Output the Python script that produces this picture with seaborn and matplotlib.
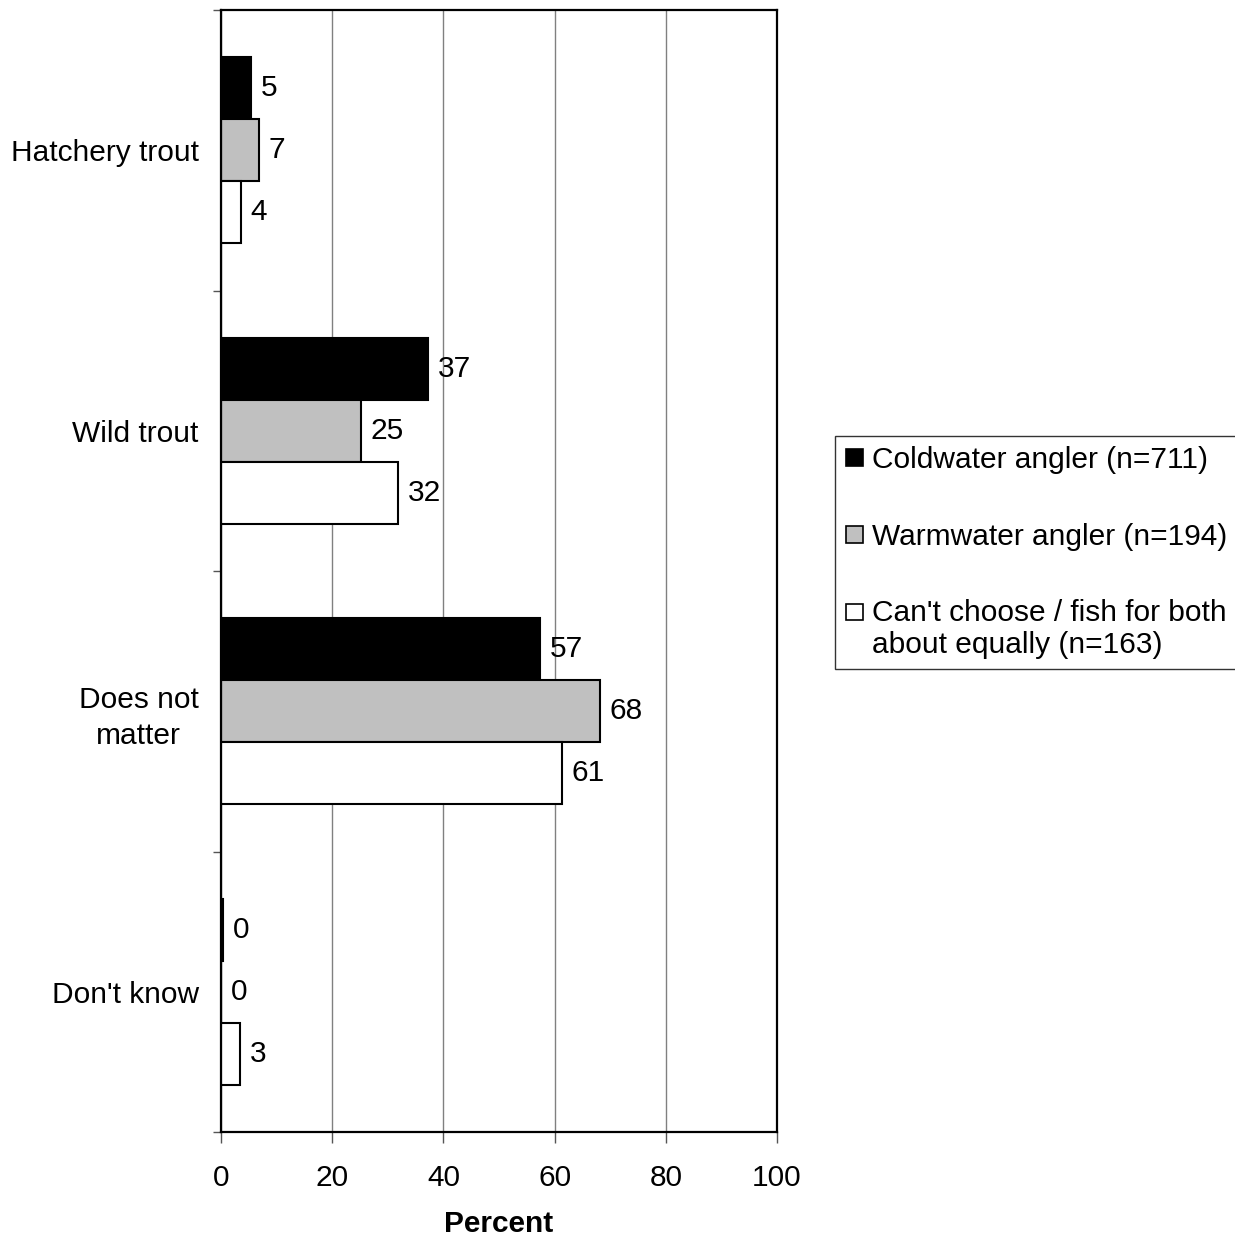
import matplotlib
matplotlib.use("Agg")
import matplotlib.pyplot as plt
import seaborn as sns
import pandas as pd
from matplotlib.patches import Rectangle
from matplotlib.legend_handler import HandlerPatch

categories = ["Hatchery trout", "Wild trout", "Does not\nmatter", "Don't know"]
series = ["Coldwater angler (n=711)", "Warmwater angler (n=194)",
          "Can't choose / fish for both\nabout equally (n=163)"]
coldwater = [5.4, 37.2, 57.4, 0.3]
warmwater = [6.8, 25.2, 68.2, 0.0]
both = [3.6, 31.8, 61.3, 3.4]
colors = ["#000000", "#C0C0C0", "#FFFFFF"]
xticks = [0, 20, 40, 60, 80, 100]

rows = []
for s, vals in zip(series, [coldwater, warmwater, both]):
    for c, v in zip(categories, vals):
        rows.append({"Category": c, "Series": s, "Percent": v})
df = pd.DataFrame(rows)

sns.set_theme(style="white")
plt.rcParams['font.family'] = ['Liberation Sans', 'DejaVu Sans']
plt.rcParams['text.color'] = 'black'
plt.rcParams['axes.labelcolor'] = 'black'
plt.rcParams['xtick.labelcolor'] = 'black'
plt.rcParams['ytick.labelcolor'] = 'black'

FS = 21.5

fig = plt.figure(figsize=(12.35, 12.4), dpi=100)
ax = fig.add_axes([221/1235, 1 - 1132/1240, (777-221)/1235, (1132-10)/1240])

sns.barplot(data=df, y="Category", x="Percent", hue="Series", order=categories,
            hue_order=series, palette=colors, orient="h", width=0.664, gap=0,
            edgecolor="black", linewidth=1.5, ax=ax, legend=False, saturation=1)

for cont, vals in zip(ax.containers, [coldwater, warmwater, both]):
    ax.bar_label(cont, labels=[f"{v:.0f}" for v in vals], padding=7, fontsize=FS, color="black")

ax.set_xlim(0, 100)
ax.set_ylim(3.5, -0.5)
ax.set_xticks(xticks)
ax.set_xticklabels([str(t) for t in xticks], fontsize=FS)
ax.tick_params(axis="x", direction="out", length=8, width=1, color="#555555", pad=15, bottom=True)
ax.set_yticks(range(len(categories)))
ax.set_yticklabels(categories, fontsize=FS)
ax.tick_params(axis="y", which="major", length=0, pad=16)
ax.set_yticks([-0.5, 0.5, 1.5, 2.5, 3.5], minor=True)
ax.tick_params(axis="y", which="minor", direction="out", length=6, width=1, color="#555555", left=True)
for lbl in ax.get_yticklabels():
    lbl.set_multialignment("center")
    lbl.set_linespacing(1.35)

ax.set_ylabel("")
ax.set_xlabel("Percent", fontsize=FS, fontweight="bold", labelpad=13)
ax.xaxis.grid(True, color="#808080", linewidth=1)
ax.set_axisbelow(True)
for sp in ax.spines.values():
    sp.set_visible(True)
    sp.set_color("black")
    sp.set_linewidth(1.6)

def square(legend, orig_handle, xdescent, ydescent, width, height, fontsize):
    s = 12.2
    return Rectangle((-xdescent + (width - s) / 2, -ydescent + (height - s) / 2), s, s)

def square_top(legend, orig_handle, xdescent, ydescent, width, height, fontsize):
    s = 12.2
    return Rectangle((-xdescent + (width - s) / 2, -ydescent + (height - s) / 2 + 12.5), s, s)

handles = [Rectangle((0, 0), 1, 1, facecolor=c, edgecolor="black", linewidth=1.2) for c in colors]
hmap = {handles[0]: HandlerPatch(patch_func=square),
        handles[1]: HandlerPatch(patch_func=square),
        handles[2]: HandlerPatch(patch_func=square_top)}
leg = fig.legend(handles, series, loc="upper left", bbox_to_anchor=(835/1235, 1 - 436/1240),
                 bbox_transform=fig.transFigure, fontsize=FS, frameon=True, fancybox=False,
                 edgecolor="black", labelspacing=1.62, handlelength=0.62, handleheight=0.62,
                 handletextpad=0.28, borderpad=0.35, borderaxespad=0,
                 handler_map=hmap)
leg.get_frame().set_linewidth(1.0)
for t in leg.get_texts():
    t.set_linespacing(1.15)

fig.savefig("out.png", dpi=100, facecolor="white")
